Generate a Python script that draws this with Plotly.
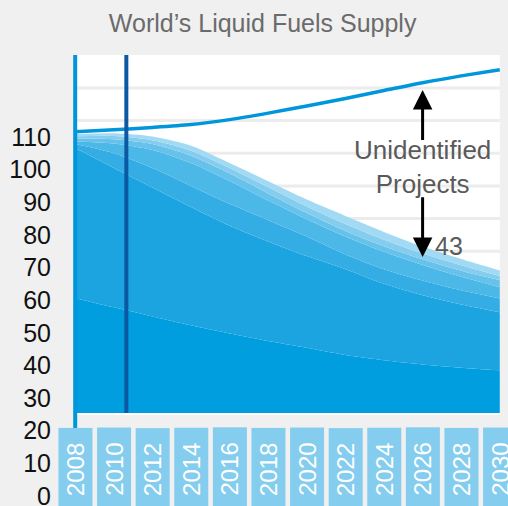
import plotly.graph_objects as go

# Years on the x axis
years = [2008, 2010, 2012, 2014, 2016, 2018, 2020, 2022, 2024, 2026, 2028, 2030]

# World liquid fuels demand (top line)
demand = [111.6, 112.2, 112.9, 113.8, 115.3, 117.3, 119.5, 121.8, 124.2, 126.6, 128.7, 130.6]

# Supply layers, cumulative top of each band (bottom band first)
supply_1 = [60.6, 57.8, 55.0, 52.3, 49.8, 47.5, 45.4, 43.2, 41.6, 40.3, 39.3, 38.5]
supply_2 = [106.6, 100.5, 94.5, 88.5, 82.8, 78.0, 73.5, 69.5, 65.0, 61.5, 58.7, 56.3]
supply_3 = [107.8, 105.0, 100.5, 95.0, 89.5, 84.5, 79.5, 74.0, 69.5, 66.0, 63.0, 60.5]
supply_4 = [108.6, 108.0, 106.0, 102.0, 96.5, 90.5, 84.8, 79.5, 74.8, 70.8, 67.2, 64.0]
supply_5 = [109.5, 109.3, 107.8, 104.2, 98.8, 92.7, 86.7, 81.2, 76.5, 72.5, 69.0, 66.1]
supply_6 = [110.2, 110.3, 109.0, 105.8, 100.5, 94.6, 88.7, 83.3, 78.5, 74.3, 70.7, 67.4]
supply_7 = [110.8, 111.1, 110.1, 107.3, 102.0, 96.4, 90.8, 85.8, 80.9, 76.4, 72.6, 69.1]

y_ticks = [0, 10, 20, 30, 40, 50, 60, 70, 80, 90, 100, 110]
year_labels = [str(y) for y in years]

gap_label = "43"
today = 2010.65

FONT = "Liberation Sans, Arial, Helvetica, sans-serif"
layer_colors = ["#009ddf", "#1ba4e0", "#33ade4", "#4cb8e8", "#66c2eb", "#85cdee", "#a2daf3"]

floor = 25.4
y_top = 135.1

fig = go.Figure()

# invisible baseline the bands fill down to
fig.add_trace(go.Scatter(x=years, y=[floor] * len(years), mode="lines",
                         line=dict(width=0), hoverinfo="skip", showlegend=False))

for band, color in zip([supply_1, supply_2, supply_3, supply_4, supply_5, supply_6, supply_7],
                       layer_colors):
    fig.add_trace(go.Scatter(
        x=years, y=band, mode="lines", fill="tonexty", fillcolor=color,
        line=dict(width=0, shape="spline", smoothing=0.8),
        showlegend=False,
    ))

fig.add_trace(go.Scatter(
    x=years, y=demand, mode="lines",
    line=dict(color="#0096db", width=3.5, shape="spline", smoothing=0.8),
    showlegend=False,
))

shapes = [
    dict(type="rect", xref="x", yref="y", x0=years[0], x1=years[-1], y0=floor - 0.6, y1=y_top,
         fillcolor="white", line=dict(width=0), layer="below"),
]
for g in range(35, 130, 10):
    shapes.append(dict(type="line", xref="x", yref="y", x0=years[0], x1=years[-1], y0=g, y1=g,
                       line=dict(color="#ececec", width=3), layer="below"))
shapes.append(dict(type="line", xref="x", yref="y", x0=years[0], x1=years[0], y0=20.8, y1=y_top,
                   line=dict(color="#0096db", width=4), layer="above"))
shapes.append(dict(type="line", xref="x", yref="y", x0=today, x1=today, y0=floor, y1=y_top,
                   line=dict(color="#0b58a3", width=4), layer="above"))

annotations = []
for yr, lab in zip(years, year_labels):
    annotations.append(dict(
        x=yr, y=8.2, xref="x", yref="y", text=lab, textangle=-90, showarrow=False,
        width=80, height=31, bgcolor="#84cdee", xanchor="center", yanchor="middle",
        font=dict(family=FONT, size=24, color="white"),
    ))

annotations += [
    dict(x=2026, y=100.8, xref="x", yref="y", text="Unidentified<br>Projects", showarrow=False,
         font=dict(family=FONT, size=26, color="#5a5a5a")),
    dict(x=2027.36, y=76.6, xref="x", yref="y", text=gap_label, showarrow=False,
         font=dict(family=FONT, size=25, color="#5a5a5a")),
    dict(x=2026, y=124.4, ax=2026, ay=108.6, xref="x", yref="y", axref="x", ayref="y",
         text="", showarrow=True, arrowhead=2, arrowsize=1.3, arrowwidth=3, arrowcolor="black",
         standoff=0, startstandoff=0),
    dict(x=2026, y=73.2, ax=2026, ay=92.0, xref="x", yref="y", axref="x", ayref="y",
         text="", showarrow=True, arrowhead=2, arrowsize=1.3, arrowwidth=3, arrowcolor="black",
         standoff=0, startstandoff=0),
]

fig.update_layout(
    width=508, height=506,
    margin=dict(l=58, r=0, t=55, b=10),
    paper_bgcolor="#f0f0f0", plot_bgcolor="#f0f0f0",
    title=dict(text="World’s Liquid Fuels Supply", x=0.517, xanchor="center",
               y=0.955, yanchor="middle",
               font=dict(family=FONT, size=25, color="#6b6b6b")),
    xaxis=dict(range=[2007.109, 2030.425], showgrid=False, zeroline=False,
               showticklabels=False, ticks="", automargin=False),
    yaxis=dict(range=[0, y_top], tickvals=y_ticks, showgrid=False, zeroline=False,
               ticks="", ticklabelstandoff=6, ticklabeloverflow="allow", automargin=False,
               tickfont=dict(family=FONT, size=25, color="#111111")),
    shapes=shapes,
    annotations=annotations,
    showlegend=False,
)

# the page is exactly the figure size, so drop the browser's default body margin
fig.write_html("out.html", config={"displayModeBar": False},
               post_script="document.body.style.margin='0';document.body.style.overflow='hidden';")
